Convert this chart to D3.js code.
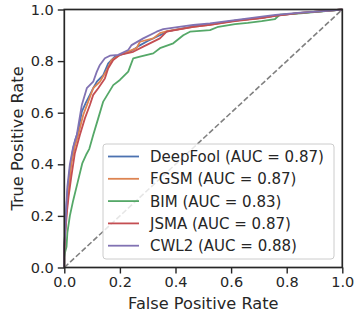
<!DOCTYPE html>
<html>
<head>
<meta charset="utf-8">
<script src="https://cdn.jsdelivr.net/npm/d3@7"></script>
<style>
  html, body { margin: 0; padding: 0; background: #ffffff; }
  svg { display: block; }
  text { font-family: "DejaVu Sans", sans-serif; fill: #262626; }
</style>
</head>
<body>
<div id="chart"></div>
<script>
// ---- Data ----
const seriesNames = ["DeepFool", "FGSM", "BIM", "JSMA", "CWL2"];
const aucValues = ["0.87", "0.87", "0.83", "0.87", "0.88"];
const seriesColors = ["#4C72B0", "#DD8452", "#55A868", "#C44E52", "#8172B3"];

const deepfoolFpr = [0, 0, 0.004, 0.008, 0.012, 0.02, 0.03, 0.038, 0.05, 0.063, 0.078, 0.092, 0.104, 0.117, 0.14, 0.158, 0.182, 0.2, 0.24, 0.27, 0.3, 0.344, 0.37, 0.464, 0.524, 0.614, 0.71, 0.76, 0.85, 0.92, 1.0];
const deepfoolTpr = [0, 0.08, 0.16, 0.24, 0.3, 0.38, 0.45, 0.49, 0.53, 0.604, 0.64, 0.669, 0.695, 0.72, 0.746, 0.791, 0.817, 0.824, 0.838, 0.86, 0.878, 0.9, 0.915, 0.935, 0.942, 0.957, 0.968, 0.976, 0.987, 0.993, 1.0];

const fgsmFpr = [0, 0, 0.004, 0.01, 0.017, 0.025, 0.038, 0.05, 0.068, 0.086, 0.104, 0.128, 0.153, 0.17, 0.2, 0.26, 0.272, 0.32, 0.344, 0.37, 0.464, 0.524, 0.614, 0.71, 0.76, 0.85, 0.92, 1.0];
const fgsmTpr = [0, 0.07, 0.16, 0.24, 0.313, 0.4, 0.47, 0.514, 0.591, 0.643, 0.695, 0.72, 0.765, 0.804, 0.824, 0.85, 0.875, 0.888, 0.908, 0.916, 0.933, 0.94, 0.957, 0.968, 0.976, 0.987, 0.993, 1.0];

const bimFpr = [0, 0, 0.003, 0.008, 0.011, 0.02, 0.032, 0.048, 0.065, 0.08, 0.09, 0.104, 0.122, 0.14, 0.176, 0.2, 0.23, 0.248, 0.272, 0.32, 0.344, 0.392, 0.428, 0.452, 0.524, 0.554, 0.614, 0.66, 0.71, 0.758, 0.776, 0.85, 0.92, 1.0];
const bimTpr = [0, 0.04, 0.06, 0.08, 0.134, 0.2, 0.26, 0.33, 0.405, 0.44, 0.46, 0.514, 0.578, 0.643, 0.707, 0.727, 0.759, 0.811, 0.817, 0.83, 0.85, 0.869, 0.90, 0.914, 0.92, 0.933, 0.943, 0.948, 0.955, 0.963, 0.98, 0.985, 0.992, 1.0];

const jsmaFpr = [0, 0, 0.004, 0.01, 0.016, 0.025, 0.038, 0.056, 0.074, 0.092, 0.104, 0.122, 0.146, 0.158, 0.176, 0.2, 0.248, 0.284, 0.344, 0.368, 0.464, 0.524, 0.614, 0.71, 0.76, 0.85, 0.92, 1.0];
const jsmaTpr = [0, 0.06, 0.14, 0.22, 0.28, 0.35, 0.443, 0.514, 0.578, 0.63, 0.669, 0.695, 0.733, 0.772, 0.804, 0.824, 0.836, 0.856, 0.888, 0.914, 0.933, 0.94, 0.955, 0.967, 0.975, 0.987, 0.993, 1.0];

const cwl2Fpr = [0, 0, 0.004, 0.008, 0.011, 0.02, 0.032, 0.045, 0.063, 0.081, 0.104, 0.117, 0.128, 0.146, 0.164, 0.194, 0.23, 0.242, 0.284, 0.332, 0.356, 0.464, 0.524, 0.614, 0.71, 0.76, 0.85, 0.92, 1.0];
const cwl2Tpr = [0, 0.08, 0.15, 0.25, 0.313, 0.40, 0.468, 0.514, 0.63, 0.695, 0.72, 0.759, 0.785, 0.811, 0.821, 0.824, 0.843, 0.862, 0.888, 0.914, 0.924, 0.94, 0.946, 0.959, 0.972, 0.979, 0.988, 0.993, 1.0];

const xTicks = [0.0, 0.2, 0.4, 0.6, 0.8, 1.0];
const yTicks = [0.0, 0.2, 0.4, 0.6, 0.8, 1.0];
const xLabel = "False Positive Rate";
const yLabel = "True Positive Rate";

// ---- Build series table ----
const fprs = [deepfoolFpr, fgsmFpr, bimFpr, jsmaFpr, cwl2Fpr];
const tprs = [deepfoolTpr, fgsmTpr, bimTpr, jsmaTpr, cwl2Tpr];
const series = seriesNames.map((name, i) => ({
  name, auc: aucValues[i], color: seriesColors[i],
  points: fprs[i].map((f, j) => [f, tprs[i][j]])
}));

// ---- Layout ----
const W = 354, H = 317;
const pLeft = 64.3, pRight = 342.3, pTop = 9.5, pBottom = 267.5;

const svg = d3.select("#chart").append("svg").attr("width", W).attr("height", H);

const x = d3.scaleLinear().domain([0, 1]).range([pLeft, pRight]);
const y = d3.scaleLinear().domain([0, 1]).range([pBottom, pTop]);

const ink = "#262626";

// Diagonal
svg.append("line")
  .attr("x1", x(0)).attr("y1", y(0)).attr("x2", x(1)).attr("y2", y(1))
  .attr("stroke", "#808080").attr("stroke-width", 1.6)
  .attr("stroke-dasharray", "5.5,2.4");

// Curves
const line = d3.line().x(d => x(d[0])).y(d => y(d[1]));
svg.append("g").selectAll("path").data(series).join("path")
  .attr("d", d => line(d.points))
  .attr("fill", "none")
  .attr("stroke", d => d.color)
  .attr("stroke-width", 1.8)
  .attr("stroke-linejoin", "round");

// Axes
const xAxis = d3.axisBottom(x).tickValues(xTicks).tickFormat(d3.format(".1f")).tickSize(6).tickPadding(3.5);
const yAxis = d3.axisLeft(y).tickValues(yTicks).tickFormat(d3.format(".1f")).tickSize(6.5).tickPadding(4);

const gx = svg.append("g").attr("transform", `translate(0,${pBottom})`).call(xAxis);
const gy = svg.append("g").attr("transform", `translate(${pLeft},0)`).call(yAxis);
[gx, gy].forEach(g => {
  g.select(".domain").remove();
  g.selectAll(".tick line").attr("stroke", ink).attr("stroke-width", 1.4);
  g.selectAll(".tick text").attr("fill", ink).style("font-size", "14.5px").style("font-family", "DejaVu Sans");
});

// Spines (box)
svg.append("rect")
  .attr("x", pLeft).attr("y", pTop).attr("width", pRight - pLeft).attr("height", pBottom - pTop)
  .attr("fill", "none").attr("stroke", ink).attr("stroke-width", 1.7);

// Axis labels
svg.append("text")
  .attr("x", (pLeft + pRight) / 2).attr("y", 309)
  .attr("text-anchor", "middle").style("font-size", "16.2px")
  .text(xLabel);
svg.append("text")
  .attr("transform", `translate(23,${(pTop + pBottom) / 2}) rotate(-90)`)
  .attr("text-anchor", "middle").style("font-size", "16.2px")
  .text(yLabel);

// Legend
const lg = svg.append("g");
lg.append("rect")
  .attr("x", 103).attr("y", 144).attr("width", 231).attr("height", 115)
  .attr("rx", 3).attr("ry", 3)
  .attr("fill", "#ffffff").attr("fill-opacity", 0.8)
  .attr("stroke", "#cccccc").attr("stroke-width", 1);
const rows = lg.selectAll("g.row").data(series).join("g")
  .attr("class", "row")
  .attr("transform", (d, i) => `translate(0,${156.5 + i * 22.3})`);
rows.append("line")
  .attr("x1", 108).attr("x2", 139).attr("y1", 0).attr("y2", 0)
  .attr("stroke", d => d.color).attr("stroke-width", 1.8);
rows.append("text")
  .attr("x", 150).attr("y", 0).attr("dy", "0.36em")
  .style("font-size", "15px")
  .text(d => `${d.name} (AUC = ${d.auc})`);
</script>
</body>
</html>
